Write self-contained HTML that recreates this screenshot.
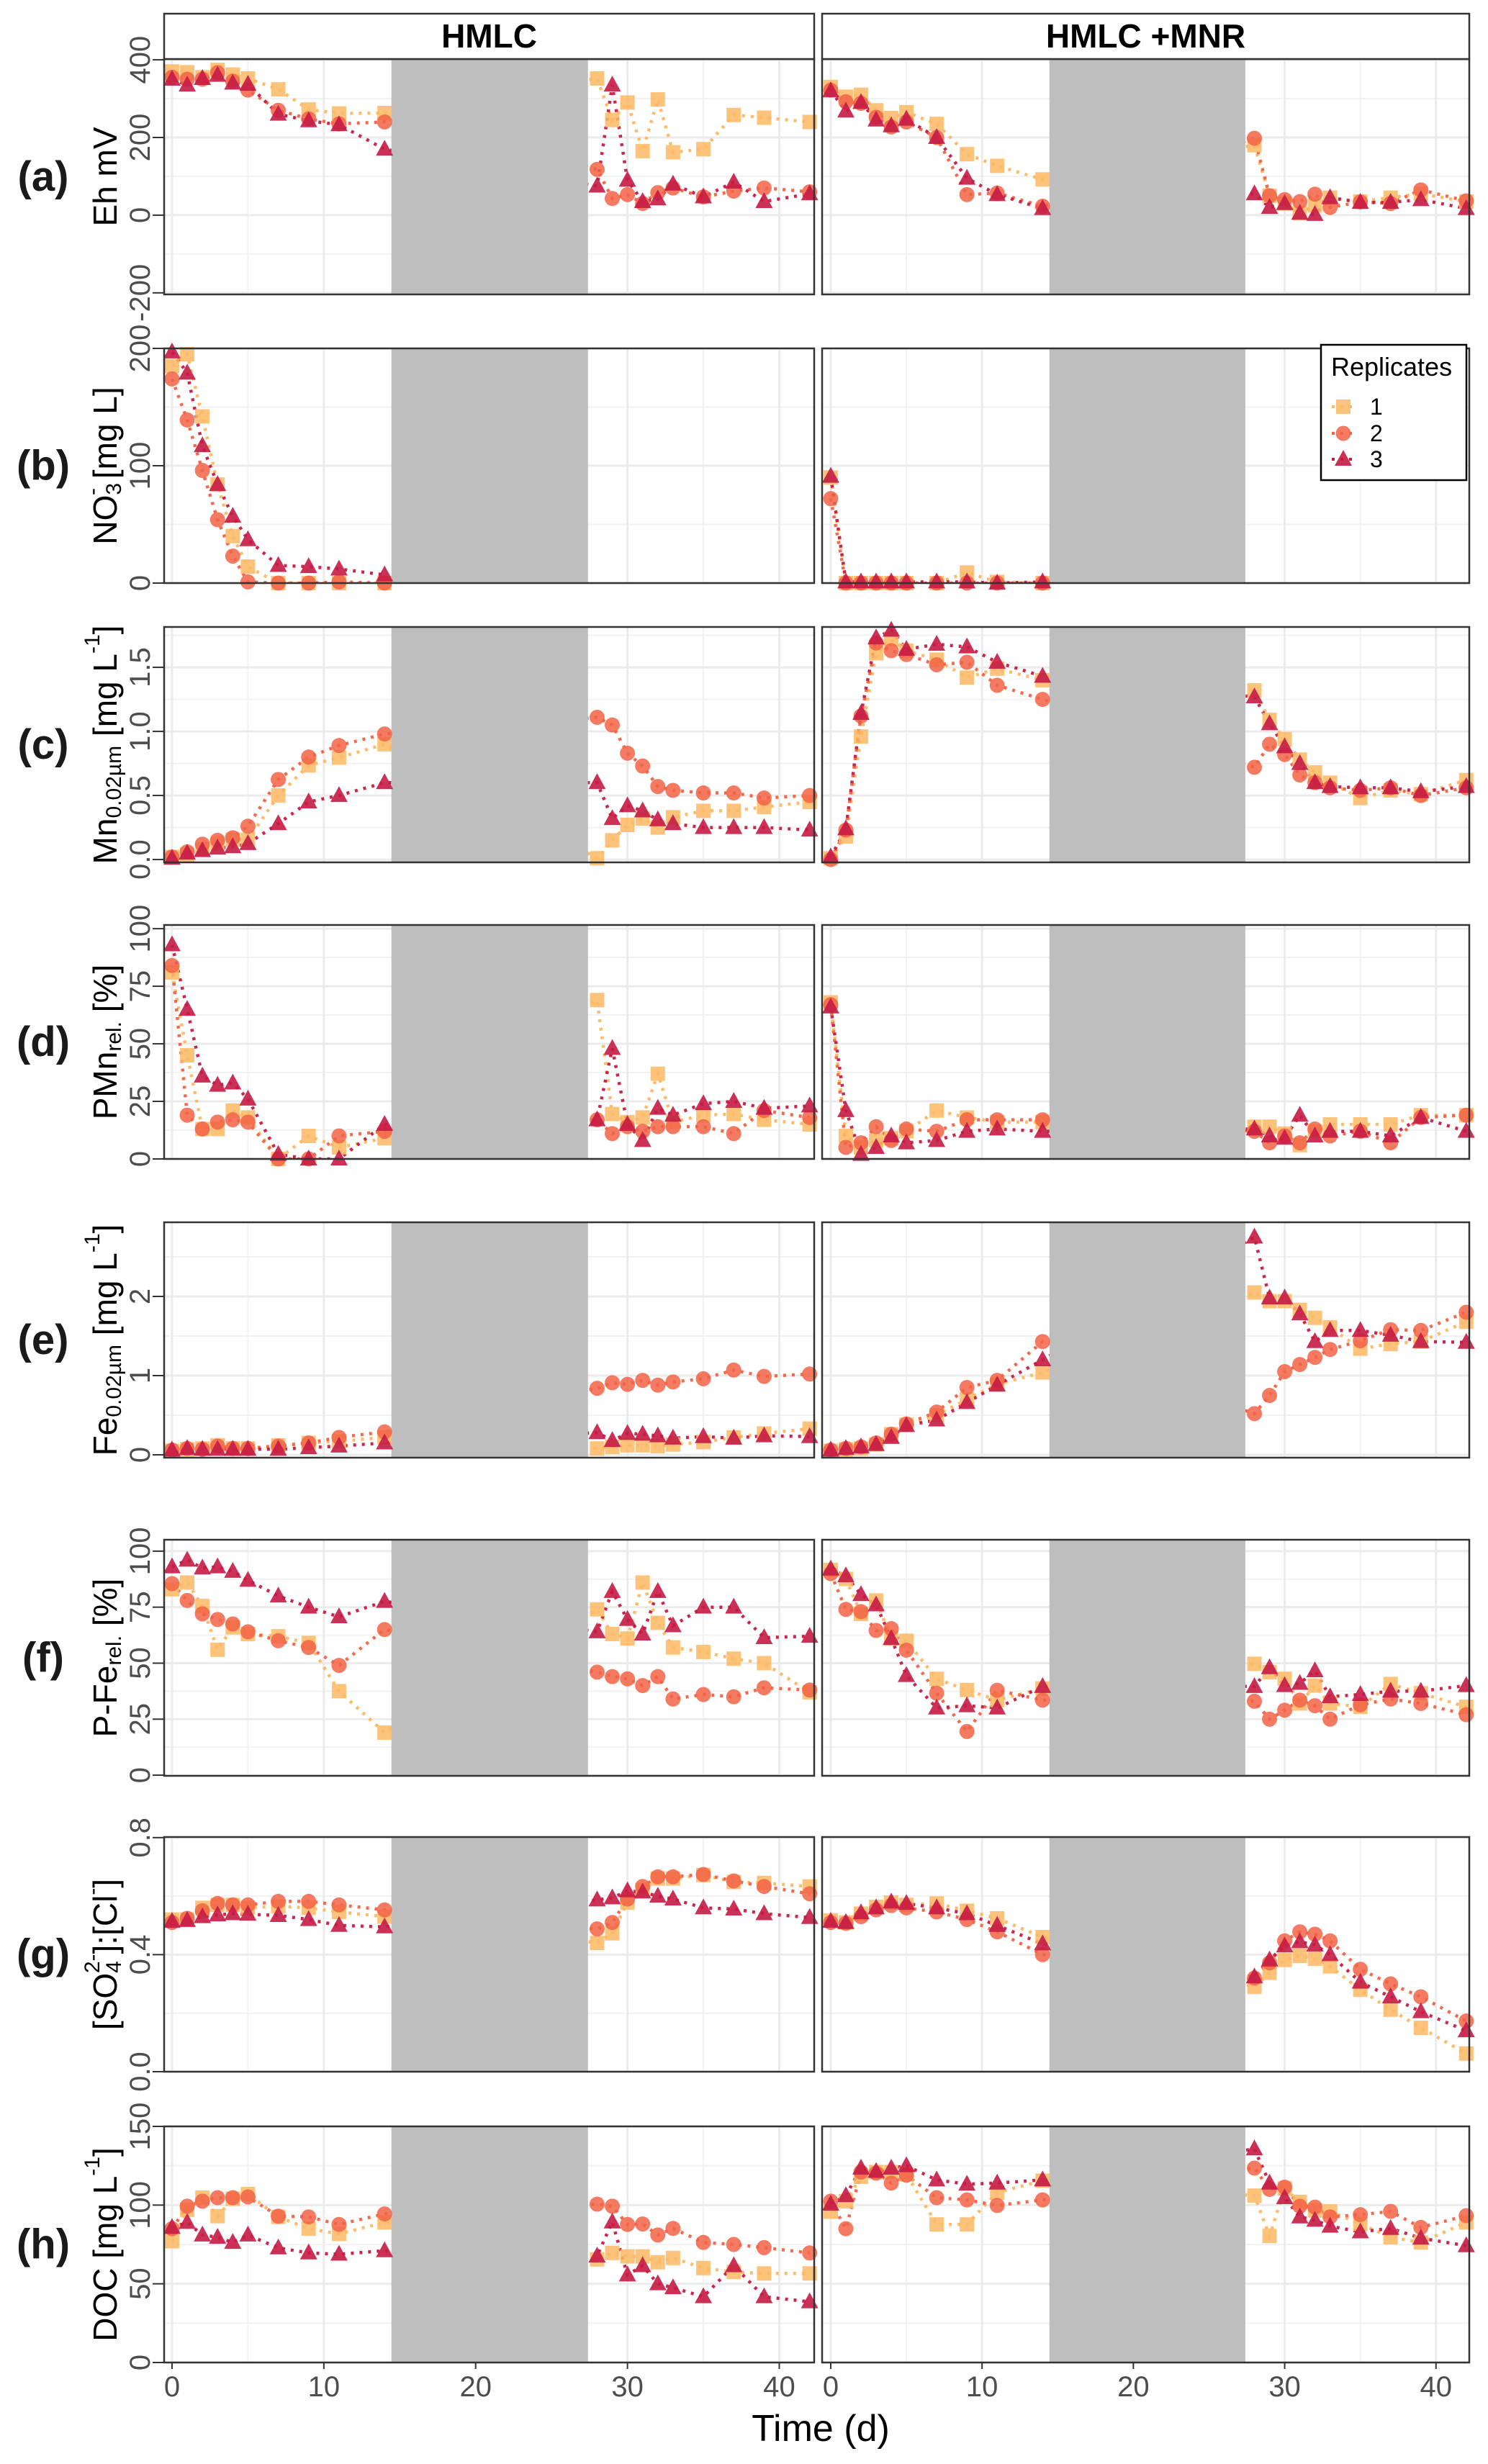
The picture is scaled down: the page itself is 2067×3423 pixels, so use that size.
<!DOCTYPE html>
<html><head><meta charset="utf-8">
<style>
html,body{margin:0;padding:0;background:#fff;}
svg{display:block;font-family:"Liberation Sans",Arial,sans-serif;}
</style></head>
<body>
<svg id="fig" width="2067" height="3423" viewBox="0 0 2067 3423" xmlns="http://www.w3.org/2000/svg">
  <rect x="0" y="0" width="2067" height="3423" fill="#fff"/>
  <g id="layer"></g>
</svg>
<script>
const days = [0,1,2,3,4,5,7,9,11,14,28,29,30,31,32,33,35,37,39,42];
const N = null;
// (a) Eh mV
const a_L_r1=[370,368,355,374,362,352,324,272,262,263,352,245,290,165,298,162,170,258,251,240];
const a_L_r2=[355,350,350,367,345,322,270,248,235,240,118,43,53,30,58,70,47,62,70,60];
const a_L_r3=[350,335,352,360,340,337,260,243,233,170,75,335,90,35,42,80,47,85,35,55];
const a_R_r1=[330,305,310,270,250,265,235,157,127,92,180,50,30,5,25,45,35,45,55,35];
const a_R_r2=[322,292,288,252,227,240,200,53,57,23,198,50,40,35,54,20,34,30,65,37];
const a_R_r3=[320,268,290,245,230,247,200,95,53,17,55,20,30,5,2,45,33,33,40,17];
// (b) NO3
const b_L_r1=[185,195,142,84,40,14,0,0,0,0,N,N,N,N,N,N,N,N,N,N];
const b_L_r2=[174,139,96,54,23,1,0,0,1,0,N,N,N,N,N,N,N,N,N,N];
const b_L_r3=[197,179,117,84,57,37,15,14,12,7,N,N,N,N,N,N,N,N,N,N];
const b_R_r1=[90,0,0,0,0,0,0,9,1,0,N,N,N,N,N,N,N,N,N,N];
const b_R_r2=[72,0,0,0,0,0,0,0,0,0,N,N,N,N,N,N,N,N,N,N];
const b_R_r3=[91,1,1,1,1,1,1,1,0,1,N,N,N,N,N,N,N,N,N,N];
// (c) Mn
const c_L_r1=[0.02,0.04,0.08,0.125,0.155,0.155,0.5,0.735,0.795,0.9,0.01,0.15,0.27,0.32,0.25,0.33,0.38,0.38,0.41,0.45];
const c_L_r2=[0.02,0.06,0.12,0.15,0.17,0.26,0.625,0.8,0.89,0.98,1.11,1.05,0.83,0.73,0.57,0.54,0.52,0.52,0.48,0.5];
const c_L_r3=[0.01,0.05,0.07,0.09,0.1,0.125,0.28,0.45,0.5,0.6,0.6,0.32,0.42,0.38,0.31,0.28,0.25,0.25,0.25,0.23];
const c_R_r1=[0.01,0.18,0.96,1.61,1.72,1.63,1.56,1.42,1.49,1.4,1.32,1.09,0.94,0.78,0.68,0.6,0.48,0.54,0.51,0.62];
const c_R_r2=[0,0.23,1.12,1.69,1.63,1.6,1.52,1.54,1.36,1.25,0.72,0.9,0.82,0.66,0.6,0.56,0.54,0.56,0.5,0.56];
const c_R_r3=[0.02,0.24,1.14,1.73,1.79,1.64,1.68,1.66,1.54,1.43,1.27,1.06,0.88,0.75,0.6,0.57,0.56,0.56,0.53,0.57];
// (d) PMn rel
const d_L_r1=[81,45,13,13,21,18,0,10,5,9,69,19.5,16,18,37,16,19,19.5,17,15];
const d_L_r2=[84,19,13,16,17,16,0,0,10,12,17,11,14,12,14,14,14,11,21,18];
const d_L_r3=[93,65,36,32,33,26,2,0,0,15,17,48,15,8,22,19,24,25,22,23];
const d_R_r1=[68,10,5,8,9,12,21,18,16,16,14,14,11,6,12,15,15,15,19,19];
const d_R_r2=[67,5,7,14,8,13,12,17,17,17,12,7,10,7,13,10,12,7,18,19];
const d_R_r3=[66,21,2,5,10,7,8,12,13,12,13,10,9,19,10,12,12,10,18,12];
// (e) Fe
const e_L_r1=[0.05,0.07,0.08,0.12,0.08,0.08,0.12,0.15,0.17,0.22,0.08,0.1,0.12,0.12,0.11,0.13,0.16,0.22,0.27,0.33];
const e_L_r2=[0.06,0.08,0.07,0.11,0.08,0.08,0.11,0.15,0.22,0.29,0.84,0.91,0.89,0.94,0.88,0.92,0.96,1.07,0.99,1.02];
const e_L_r3=[0.06,0.08,0.07,0.07,0.07,0.07,0.07,0.09,0.11,0.15,0.28,0.18,0.27,0.26,0.24,0.21,0.23,0.21,0.24,0.23];
const e_R_r1=[0.05,0.07,0.08,0.13,0.26,0.38,0.5,0.7,0.89,1.04,2.05,1.94,1.94,1.83,1.73,1.61,1.34,1.4,1.43,1.68];
const e_R_r2=[0.06,0.08,0.1,0.15,0.26,0.39,0.54,0.85,0.94,1.43,0.52,0.75,1.05,1.14,1.23,1.33,1.44,1.58,1.57,1.8];
const e_R_r3=[0.06,0.08,0.1,0.13,0.22,0.37,0.44,0.66,0.88,1.2,2.75,1.98,1.98,1.78,1.43,1.57,1.57,1.51,1.43,1.42];
// (f) P-Fe rel
const f_L_r1=[83,86,75.5,56,66,63,62,59,37.5,19,74,63,61,86,68,57,55,52,50,37];
const f_L_r2=[85.5,78,72,69.5,67.5,64,60,57,49,65,46,44,43,40,44,34,36,35,39,38];
const f_L_r3=[93,96,92.5,93,91,87,80,75,70.7,77.6,64,82,69.5,63,82,66.7,75,75,61.4,62];
const f_R_r1=[91.6,87.6,72,78,61,60,43,38,33.5,38.7,49.7,46,43,32,40,32,30.5,40.7,36.6,30.5];
const f_R_r2=[90,74,73,64.6,65.4,55.8,36.6,19.5,37.9,33.5,33,25,29,33.5,31,25,31.4,34,32,27];
const f_R_r3=[92,89,80.6,76,61,44.5,30,31,30,39.6,39.6,48,40,41,46.6,35,36,37.5,37.5,40];
// (g) SO4:Cl
const g_L_r1=[0.52,0.52,0.56,0.57,0.57,0.56,0.565,0.56,0.546,0.53,0.44,0.473,0.578,0.62,0.66,0.66,0.672,0.648,0.645,0.633];
const g_L_r2=[0.51,0.524,0.55,0.575,0.57,0.57,0.582,0.582,0.57,0.553,0.488,0.51,0.59,0.633,0.666,0.666,0.674,0.652,0.633,0.608];
const g_L_r3=[0.514,0.517,0.53,0.536,0.54,0.538,0.534,0.52,0.5,0.495,0.587,0.594,0.618,0.614,0.6,0.59,0.56,0.556,0.54,0.527];
const g_R_r1=[0.517,0.51,0.54,0.563,0.578,0.57,0.575,0.55,0.524,0.46,0.29,0.338,0.382,0.396,0.386,0.36,0.28,0.212,0.15,0.062];
const g_R_r2=[0.51,0.507,0.53,0.553,0.568,0.56,0.546,0.52,0.478,0.4,0.32,0.372,0.447,0.478,0.47,0.447,0.35,0.3,0.256,0.173];
const g_R_r3=[0.514,0.51,0.543,0.56,0.58,0.575,0.56,0.54,0.5,0.437,0.324,0.382,0.43,0.444,0.433,0.4,0.306,0.256,0.205,0.14];
// (h) DOC
const h_L_r1=[77,97,104.7,93,104,107,92.5,85,81.7,89,65.5,69.6,67.4,67.4,63.7,66.4,60,57.5,56.6,56.6];
const h_L_r2=[85,99.3,102.5,104.7,104.7,105.2,93,92.5,87.7,94.4,100.6,99.3,87.7,88,81,85.2,76.3,75,73,69.6];
const h_L_r3=[85.8,89,81,79.6,76.3,81,72.8,69.6,68.8,71,67.7,89.3,55.6,61.5,50,47.5,41.8,61.5,41.8,38.6];
const h_R_r1=[95.8,102.5,118,121,121,119.5,87.7,87.7,108,115.5,106,80.4,110.6,102,96.6,96,88,79.6,76.3,89];
const h_R_r2=[102.5,85,121,120.3,114,119,104.7,103.3,99.8,103.3,123.5,110,111.4,99.3,98.7,92.5,93.9,96,85.8,93.3];
const h_R_r3=[100.6,106,123.5,121.4,123.5,125,116,113.3,114,116,135.7,114,104.7,92.5,90.4,86.6,83,85.2,79,74.2];

const aTicks=[-200,0,200,400], bTicks=[0,100,200], cTicks=[0,0.5,1,1.5], dTicks=[0,25,50,75,100];
const eTicks=[0,1,2], fTicks=[0,25,50,75,100], gTicks=[0,0.4,0.8], hTicks=[0,50,100,150];
const cTickLabels=["0.0","0.5","1.0","1.5"], gTickLabels=["0.0","0.4","0.8"];
const xTicks=[0,10,20,30,40];
const gapStart=14.45, gapEnd=27.4;

const NS="http://www.w3.org/2000/svg";
const layer=document.getElementById('layer');
function mk(tag,attrs,parent){const e=document.createElementNS(NS,tag);for(const k in attrs)e.setAttribute(k,attrs[k]);(parent||layer).appendChild(e);return e;}

const sides=[{x0:228,x1:1131,dlo:-0.52,dhi:42.3,key:'hmlc'},{x0:1142,x1:2041,dlo:-0.57,dhi:42.2,key:'hmlc-mnr'}];
const colors=['#fdb863','#f26345','#c51b45'];
const shapes=['square','circle','triangle'];

const panels=[
 {id:'a',top:82,bot:409,lo:-204,hi:402,ticks:aTicks,labels:aTicks.map(String),L:[a_L_r1,a_L_r2,a_L_r3],R:[a_R_r1,a_R_r2,a_R_r3],title:'eh'},
 {id:'b',top:484,bot:810,lo:0,hi:200,ticks:bTicks,labels:bTicks.map(String),L:[b_L_r1,b_L_r2,b_L_r3],R:[b_R_r1,b_R_r2,b_R_r3],title:'no3'},
 {id:'c',top:871,bot:1198,lo:-0.022,hi:1.815,ticks:cTicks,labels:cTickLabels,L:[c_L_r1,c_L_r2,c_L_r3],R:[c_R_r1,c_R_r2,c_R_r3],title:'mn'},
 {id:'d',top:1285,bot:1610,lo:0,hi:101.6,ticks:dTicks,labels:dTicks.map(String),L:[d_L_r1,d_L_r2,d_L_r3],R:[d_R_r1,d_R_r2,d_R_r3],title:'pmn'},
 {id:'e',top:1698,bot:2025,lo:-0.036,hi:2.936,ticks:eTicks,labels:eTicks.map(String),L:[e_L_r1,e_L_r2,e_L_r3],R:[e_R_r1,e_R_r2,e_R_r3],title:'fe'},
 {id:'f',top:2139,bot:2467,lo:-0.3,hi:105.1,ticks:fTicks,labels:fTicks.map(String),L:[f_L_r1,f_L_r2,f_L_r3],R:[f_R_r1,f_R_r2,f_R_r3],title:'pfe'},
 {id:'g',top:2552,bot:2878,lo:0,hi:0.802,ticks:gTicks,labels:gTickLabels,L:[g_L_r1,g_L_r2,g_L_r3],R:[g_R_r1,g_R_r2,g_R_r3],title:'so4'},
 {id:'h',top:2954,bot:3282,lo:0,hi:150,ticks:hTicks,labels:hTicks.map(String),L:[h_L_r1,h_L_r2,h_L_r3],R:[h_R_r1,h_R_r2,h_R_r3],title:'doc'}
];

function titleSVG(g,key,cx,cy){
  const t=mk('text',{x:0,y:0,'font-size':46,fill:'#000','text-anchor':'middle',transform:`translate(${cx},${cy}) rotate(-90)`,'dominant-baseline':'central'},g);
  
  
  const parts={
    eh:[['Eh mV','']],
    no3:[['NO',''],['3','sub'],['-','sup'],[' [mg L]','']],
    mn:[['Mn',''],['0.02µm','sub'],[' [mg L',''],['-1','sup'],[']','']],
    pmn:[['PMn',''],['rel.','sub'],[' [%]','']],
    fe:[['Fe',''],['0.02µm','sub'],[' [mg L',''],['-1','sup'],[']','']],
    pfe:[['P-Fe',''],['rel.','sub'],[' [%]','']],
    so4:[['[SO',''],['4','sub'],['2-','sup'],[']:[Cl',''],['-','sup'],[']','']],
    doc:[['DOC [mg L',''],['-1','sup'],[']','']]
  }[key];
  let prev='';
  parts.forEach(([s,k])=>{
    const ts=mk('tspan',{},t);
    if(k){ts.setAttribute('font-size',30);}
    let dy=0;
    if(k==='sub')dy=(prev==='sup'?28:12); else if(k==='sup')dy=(prev==='sub'?-30:-18); else dy=(prev==='sub'?-12:prev==='sup'?18:0);
    if(k==='sup'&&prev==='sub'){ts.setAttribute('dx',-17);}
    if(dy)ts.setAttribute('dy',dy);
    ts.textContent=s;prev=k;
  });
}

function marker(g,shape,x,y,col){
  let e;
  if(shape==='square')e=mk('rect',{x:x-10,y:y-10,width:20,height:20,fill:col,'fill-opacity':0.85},g);
  else if(shape==='circle')e=mk('circle',{cx:x,cy:y,r:10.5,fill:col,'fill-opacity':0.85},g);
  else e=mk('polygon',{points:`${x},${y-13} ${x+12},${y+9} ${x-12},${y+9}`,fill:col,'fill-opacity':0.9},g);
  return e;
}

panels.forEach((p,pi)=>{
  const yS=v=>p.bot-(v-p.lo)/(p.hi-p.lo)*(p.bot-p.top);
  const pg=mk('g',{});
  
  
  const lab=mk('text',{x:60,y:(p.top+p.bot)/2,'font-size':58,'font-weight':'bold','text-anchor':'middle','dominant-baseline':'central',fill:'#1a1a1a'},pg);
  
  
  lab.textContent='('+p.id+')';
  titleSVG(pg,p.title,146,(p.top+p.bot)/2);
  p.ticks.forEach((tv,i)=>{
    const y=yS(tv);
    mk('line',{x1:212,x2:sides[0].x0,y1:y,y2:y,stroke:'#333',"stroke-width":2},pg);
    const tl=mk('text',{x:0,y:0,'font-size':40,fill:'#4d4d4d','text-anchor':'middle','dominant-baseline':'central',transform:`translate(195,${y}) rotate(-90)`},pg);
    
    
    tl.textContent=p.labels[i];
  });
  sides.forEach((s,si)=>{
    const xS=d=>s.x0+(d-s.dlo)/(s.dhi-s.dlo)*(s.x1-s.x0);
    const sg=mk('g',{},pg);
    
    
    const clipId='clip'+p.id+si;
    const cp=mk('clipPath',{id:clipId},sg);
    mk('rect',{x:s.x0,y:p.top,width:s.x1-s.x0,height:p.bot-p.top},cp);
    for(let i=0;i<p.ticks.length-1;i++){const m=(p.ticks[i]+p.ticks[i+1])/2;const y=yS(m);mk('line',{x1:s.x0,x2:s.x1,y1:y,y2:y,stroke:'#f2f2f2','stroke-width':2},sg);}
    const stp=p.ticks[1]-p.ticks[0];const extra=p.ticks[p.ticks.length-1]+stp/2; if(extra<p.hi){const y=yS(extra);mk('line',{x1:s.x0,x2:s.x1,y1:y,y2:y,stroke:'#f2f2f2','stroke-width':2},sg);}
    [5,15,25,35].forEach(d=>{const x=xS(d);mk('line',{x1:x,x2:x,y1:p.top,y2:p.bot,stroke:'#f2f2f2','stroke-width':2},sg);});
    p.ticks.forEach(tv=>{const y=yS(tv);mk('line',{x1:s.x0,x2:s.x1,y1:y,y2:y,stroke:'#ebebeb','stroke-width':3},sg);});
    xTicks.forEach(d=>{const x=xS(d);mk('line',{x1:x,x2:x,y1:p.top,y2:p.bot,stroke:'#ebebeb','stroke-width':3},sg);});
    const series=si===0?p.L:p.R;
    const lg=mk('g',{'clip-path':`url(#${clipId})`},sg);
    series.forEach((arr,ri)=>{
      let d='';let pen=false;
      arr.forEach((v,i)=>{if(v===null){pen=false;return;}d+=(pen?'L':'M')+xS(days[i]).toFixed(1)+','+yS(v).toFixed(1)+' ';pen=true;});
      const ln=mk('path',{d:d,fill:'none',stroke:colors[ri],'stroke-width':4.5,'stroke-dasharray':'4 8','stroke-opacity':0.95},lg);
      
      
    });
    const band=mk('rect',{x:xS(gapStart),y:p.top,width:xS(gapEnd)-xS(gapStart),height:p.bot-p.top,fill:'#bebebe'},sg);
    
    
    series.forEach((arr,ri)=>{
      arr.forEach((v,i)=>{
        if(v===null)return;
        const m=marker(sg,shapes[ri],xS(days[i]),yS(v),colors[ri]);
        
        
      });
    });
    const br=mk('rect',{x:s.x0,y:p.top,width:s.x1-s.x0,height:p.bot-p.top,fill:'none',stroke:'#333','stroke-width':2.5},sg);
    
    
    if(pi===0){
      const st=mk('rect',{x:s.x0,y:19,width:s.x1-s.x0,height:63,fill:'#fff',stroke:'#333','stroke-width':2.5},sg);
      
      
      const stt=mk('text',{x:(s.x0+s.x1)/2,y:50,'font-size':46,'font-weight':'bold','text-anchor':'middle','dominant-baseline':'central',fill:'#000'},sg);
      
      
      stt.textContent=si===0?'HMLC':'HMLC +MNR';
    }
    if(pi===panels.length-1){
      xTicks.forEach(d=>{
        const x=xS(d);
        mk('line',{x1:x,x2:x,y1:p.bot,y2:p.bot+9,stroke:'#333','stroke-width':2},sg);
        const tl=mk('text',{x:x,y:3316,'font-size':40,fill:'#4d4d4d','text-anchor':'middle','dominant-baseline':'central'},sg);
        
        
        tl.textContent=String(d);
      });
    }
  });
});
const xt=mk('text',{x:1140,y:3374,'font-size':52,fill:'#000','text-anchor':'middle','dominant-baseline':'central'});


xt.textContent='Time (d)';

const lgd=mk('g',{});


mk('rect',{x:1835,y:479,width:202,height:188,fill:'#fff',stroke:'#000','stroke-width':2.5},lgd);
const lt=mk('text',{x:1849,y:522,'font-size':36,fill:'#000'},lgd);


lt.textContent='Replicates';
const legYs=[565,602,638];
[0,1,2].forEach(i=>{
  const eg=mk('g',{},lgd);
  
  
  mk('line',{x1:1850,x2:1880,y1:legYs[i],y2:legYs[i],stroke:colors[i],'stroke-width':4,'stroke-dasharray':'4 8'},eg);
  marker(eg,shapes[i],1866,legYs[i],colors[i]);
  const t=mk('text',{x:1903,y:legYs[i],'font-size':32,fill:'#000','dominant-baseline':'central'},eg);
  t.textContent=String(i+1);
});
</script>
</body></html>
